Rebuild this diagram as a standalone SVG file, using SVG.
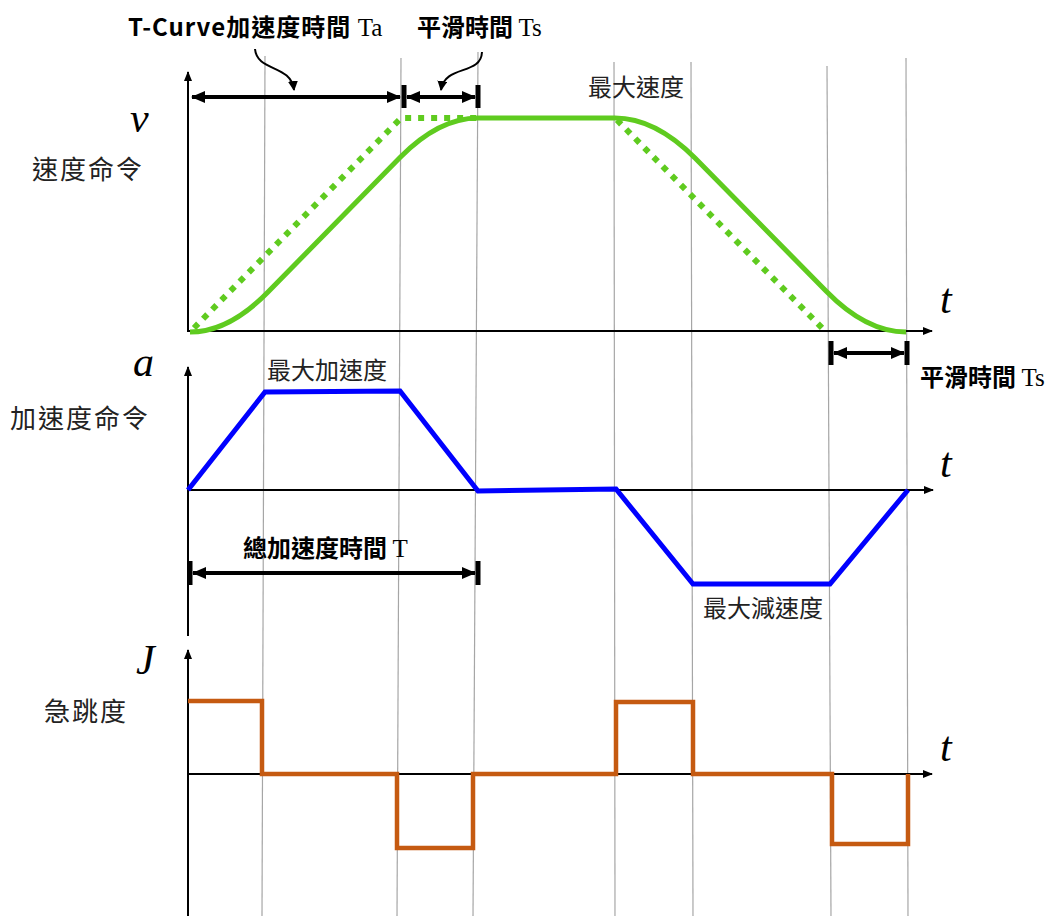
<svg xmlns="http://www.w3.org/2000/svg" width="1050" height="916" viewBox="0 0 1050 916">
<style>
.grid{stroke:#a6a6a6;stroke-width:1.2;fill:none}
.axis{stroke:#000;stroke-width:2;fill:none}
.dim{stroke:#000;stroke-width:4;fill:none}
.bar{stroke:#000;stroke-width:5;fill:none}
.cjk{font-family:"Noto Sans CJK TC","Noto Sans CJK SC",sans-serif;font-size:24px;fill:#222}
.side{font-size:26px;letter-spacing:2px}
.bold{font-weight:bold;fill:#000}
.ser{font-family:"Liberation Serif",serif;font-weight:normal;font-size:25px}
.var{font-family:"Liberation Serif",serif;font-style:italic;font-size:42px;fill:#000}
.green{stroke:#5fcb1f;stroke-width:5;fill:none}
.gdot{stroke:#5fcb1f;stroke-width:6;fill:none;stroke-dasharray:6 7}
.blue{stroke:#0000ff;stroke-width:5;fill:none;stroke-linejoin:miter}
.orange{stroke:#c55a11;stroke-width:4.5;fill:none;stroke-linejoin:miter}
</style>
<defs>
<marker id="ax" viewBox="0 0 10 8" refX="9" refY="4" markerWidth="10" markerHeight="8" markerUnits="userSpaceOnUse" orient="auto"><path d="M0 0L10 4L0 8z" fill="#000"/></marker>
<marker id="dh" viewBox="0 0 14 12" refX="13" refY="6" markerWidth="14" markerHeight="12" markerUnits="userSpaceOnUse" orient="auto-start-reverse"><path d="M0 0L14 6L0 12z" fill="#000"/></marker>
<marker id="ch" viewBox="0 0 10 10" refX="9" refY="5" markerWidth="10" markerHeight="10" markerUnits="userSpaceOnUse" orient="auto"><path d="M0 0L10 5L0 10z" fill="#000"/></marker>
</defs>

<g id="gridlines">
<line class="grid" x1="265" y1="56" x2="262" y2="916"/>
<line class="grid" x1="401" y1="58" x2="397" y2="916"/>
<line class="grid" x1="478" y1="52" x2="473" y2="916"/>
<line class="grid" x1="614" y1="62" x2="615" y2="916"/>
<line class="grid" x1="691" y1="62" x2="693" y2="916"/>
<line class="grid" x1="827" y1="66" x2="831" y2="916"/>
<line class="grid" x1="906" y1="58" x2="908" y2="916"/>
</g>

<g id="connectors">
<line class="axis" x1="188" y1="331" x2="188" y2="72" marker-end="url(#ax)"/>
<line class="axis" x1="187" y1="331" x2="932" y2="331" marker-end="url(#ax)"/>
<line class="axis" x1="188" y1="636" x2="188" y2="367" marker-end="url(#ax)"/>
<line class="axis" x1="187" y1="490" x2="933" y2="490" marker-end="url(#ax)"/>
<line class="axis" x1="188" y1="916" x2="188" y2="650" marker-end="url(#ax)"/>
<line class="axis" x1="187" y1="774" x2="932" y2="774" marker-end="url(#ax)"/>

<line class="dim" x1="192" y1="97" x2="400" y2="97" marker-start="url(#dh)" marker-end="url(#dh)"/>
<line class="bar" x1="404" y1="85" x2="404" y2="108"/>
<line class="dim" x1="407" y1="97" x2="475" y2="97" marker-start="url(#dh)" marker-end="url(#dh)"/>
<line class="bar" x1="478" y1="85" x2="478" y2="108"/>

<line class="bar" x1="831" y1="341" x2="831" y2="365"/>
<line class="dim" x1="834" y1="353" x2="904" y2="353" marker-start="url(#dh)" marker-end="url(#dh)"/>
<line class="bar" x1="907" y1="341" x2="907" y2="365"/>

<line class="bar" x1="190" y1="561" x2="190" y2="585"/>
<line class="dim" x1="193" y1="573" x2="475" y2="573" marker-start="url(#dh)" marker-end="url(#dh)"/>
<line class="bar" x1="478" y1="561" x2="478" y2="585"/>

<path d="M255 49 C257 72 291 64 294 90" stroke="#000" stroke-width="2" fill="none" marker-end="url(#ch)"/>
<path d="M482 52 C481 76 445 64 441 90" stroke="#000" stroke-width="2" fill="none" marker-end="url(#ch)"/>
</g>

<g id="velocity">
<path class="gdot" d="M194 328 L401 118 L478 118"/>
<path class="gdot" d="M617 120 L825 331"/>
<path class="green" d="M190 332 Q229 332 268 292 L400 157.5 Q439 118 478 118 L615 118 Q655 118 695 158 L826 291 Q866 332 906 332"/>
</g>

<g id="acceleration">
<path class="blue" d="M188 490 L265 392 L400 391 L478 491 L616 489 L693 584 L830 584 L908 490"/>
</g>

<g id="jerk">
<path class="orange" d="M188 701 L262 701 L262 774 L397 774 L397 848 L473 848 L473 774 L616 774 L616 702 L693 702 L693 774 L832 774 L832 844 L908 844 L908 774"/>
</g>

<g id="labels">
<text class="cjk bold" x="128" y="36" letter-spacing="1">T-Curve加速度時間 <tspan class="ser" letter-spacing="0">Ta</tspan></text>
<text class="cjk bold" x="417" y="36">平滑時間 <tspan class="ser">Ts</tspan></text>
<text class="var" x="130" y="132">v</text>
<text class="cjk side" x="32" y="179">速度命令</text>
<text class="cjk" x="588" y="96">最大速度</text>
<text class="var" x="940" y="313">t</text>
<text class="cjk bold" x="920" y="386">平滑時間 <tspan class="ser">Ts</tspan></text>
<text class="var" x="133" y="376">a</text>
<text class="cjk" x="267" y="379">最大加速度</text>
<text class="cjk side" x="10" y="428">加速度命令</text>
<text class="var" x="940" y="477">t</text>
<text class="cjk bold" x="243" y="557">總加速度時間 <tspan class="ser">T</tspan></text>
<text class="cjk" x="703" y="617">最大減速度</text>
<text class="var" x="136" y="674">J</text>
<text class="cjk side" x="44" y="721">急跳度</text>
<text class="var" x="940" y="761">t</text>
</g>
</svg>
